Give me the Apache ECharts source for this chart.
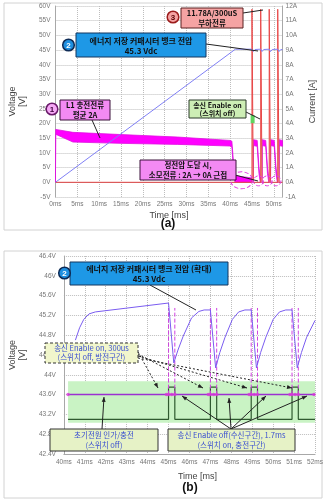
<!DOCTYPE html>
<html>
<head>
<meta charset="utf-8">
<script src="https://cdn.jsdelivr.net/npm/echarts@6/dist/echarts.min.js"></script>
<style>
  html, body { margin: 0; padding: 0; background: #fff; }
  #chart { width: 326px; height: 504px; }
</style>
</head>
<body>
<div id="chart"></div>
<script>
// 송신 펄스 타이밍 (ms)
var pulseStart = [45.0, 47.0, 48.95, 50.9];
var pulseWidth = 0.3;
var loadPeak = 11.78;

// (a) 커패시터 전압 [V]
var vaT = [0, 41.2, 45.0, 45.3, 45.7, 47.0, 47.3, 47.7, 48.95, 49.25, 49.65, 50.9, 51.2, 51.6, 52];
var vaV = [0, 45.3, 45.3, 44.5, 45.2, 45.3, 44.5, 45.2, 45.3, 44.5, 45.2, 45.3, 44.5, 45.2, 45.1];

// (a) L1 충전전류 리플 밴드 [A]
var bandT  = [0, 0.05, 4, 15, 28, 40, 40.4, 40.8, 41.1, 44.9, 45.3, 45.35, 46.2, 46.6, 46.9, 47.3, 47.35, 48.15, 48.55, 48.85, 49.25, 49.3, 50.1, 50.5, 50.8, 51.2, 51.25, 52];
var bandHi = [0, 3.6, 3.4, 3.25, 3.08, 2.85, 2.8, 1.2, 0.45, 0.3, 0.3, 2.9, 2.85, 1.0, 0.35, 0.3, 2.9, 2.85, 1.0, 0.35, 0.3, 2.9, 2.85, 1.0, 0.35, 0.3, 2.9, 2.85];
var bandLo = [0, 3.27, 2.74, 2.65, 2.58, 2.47, 2.4, 0.8, 0, 0, 0, 2.5, 2.45, 0.6, 0, 0, 2.5, 2.45, 0.6, 0, 0, 2.5, 2.45, 0.6, 0, 0, 2.5, 2.45];

// (a) 점선 원 표시 위치
var ringT = [42.6, 46.5, 48.5, 50.5];
var ringA = [0.14, 0.1, 0.1, 0.1];
var enableMark = [45.15, 4.3];

// (b) 커패시터 전압 확대 [V]
var vbT = [40.55, 40.75, 40.95, 41.2, 41.5, 45.0, 45.25, 45.45, 45.7, 46.1, 46.45, 46.7, 47.0, 47.25, 47.45, 47.7, 48.05, 48.35, 48.65, 48.95, 49.2, 49.4, 49.65, 50.0, 50.3, 50.6, 50.9, 51.15, 51.35, 51.6, 52.0];
var vbV = [44.70, 44.95, 45.12, 45.23, 45.27, 45.45, 44.24, 44.5, 44.78, 45.15, 45.28, 45.31, 45.31, 44.14, 44.45, 44.76, 45.12, 45.27, 45.31, 45.31, 44.14, 44.45, 44.76, 45.12, 45.27, 45.31, 45.31, 44.14, 44.45, 44.76, 45.1];

// (b) 송신 Enable 신호 / 기준선
var sigLo = 43.1, sigHi = 43.75, sigStart = 40.2, sigEnd = 52;
var levelB = 43.6;
var dashTop = 45.35;
var markT = [40.2, 44.9, 45.0, 45.15, 45.3, 46.9, 47.0, 47.15, 47.3, 48.85, 48.95, 49.1, 49.25, 50.8, 50.9, 51.05, 51.2, 51.95];
var greenBand = [43.03, 43.87];

var KR = 'Noto Sans CJK KR';

function zip(a, b) { return a.map(function (v, i) { return [v, b[i]]; }); }

var loadData = [[0, 0]];
pulseStart.forEach(function (s) {
  loadData.push([s, 0], [s, loadPeak], [s + pulseWidth, loadPeak], [s + pulseWidth, 0]);
});
loadData.push([52, 0]);

var sigData = [[sigStart, sigLo]];
pulseStart.forEach(function (s) {
  sigData.push([s, sigLo], [s, sigHi], [s + pulseWidth, sigHi], [s + pulseWidth, sigLo]);
});
sigData.push([sigEnd, sigLo]);

var dashData = [];
pulseStart.forEach(function (s) {
  [s, s + pulseWidth].forEach(function (x) { dashData.push([x, levelB], [x, dashTop], [x, '-']); });
});

// --- 주석 그래픽 ---
function box(x, y, w, h, fill, stroke, dash) {
  var st = { fill: fill, stroke: stroke, lineWidth: 1 };
  if (dash) st.lineDash = [3, 2];
  return { type: 'rect', shape: { x: x, y: y, width: w, height: h }, style: st, z: 10 };
}
function txt(x, y, s, color, size, weight) {
  return { type: 'text', x: x, y: y, z: 11,
    style: { text: s, fill: color, fontSize: size, fontWeight: weight || 'bold', fontFamily: KR, align: 'center', verticalAlign: 'middle' } };
}
function circ(cx, cy, r, fill, stroke, label, color) {
  return [
    { type: 'circle', shape: { cx: cx, cy: cy, r: r }, style: { fill: fill, stroke: stroke, lineWidth: 1.5 }, z: 10 },
    { type: 'text', x: cx, y: cy + 0.5, z: 11, style: { text: label, fill: color, fontSize: 8, fontWeight: 'bold', fontFamily: 'Liberation Sans', align: 'center', verticalAlign: 'middle' } }
  ];
}
function seg(x1, y1, x2, y2, dash) {
  var st = { stroke: '#222', lineWidth: 1 };
  if (dash) st.lineDash = [2, 2];
  return { type: 'line', shape: { x1: x1, y1: y1, x2: x2, y2: y2 }, style: st, z: 9 };
}
function arrow(x1, y1, x2, y2, dash) {
  var dx = x2 - x1, dy = y2 - y1, L = Math.sqrt(dx * dx + dy * dy), ux = dx / L, uy = dy / L;
  var hl = 5, hw = 2;
  return [seg(x1, y1, x2, y2, dash),
    { type: 'polygon', z: 9, style: { fill: '#222' },
      shape: { points: [[x2, y2], [x2 - ux * hl - uy * hw, y2 - uy * hl + ux * hw], [x2 - ux * hl + uy * hw, y2 - uy * hl - ux * hw]] } }];
}

var g = [];
// 패널 테두리
g.push({ type: 'rect', shape: { x: 4, y: 3, width: 318, height: 227 }, style: { fill: 'none', stroke: '#d2d2d2', lineWidth: 1 }, z: 0 });
g.push({ type: 'rect', shape: { x: 4, y: 251, width: 318, height: 247 }, style: { fill: 'none', stroke: '#d2d2d2', lineWidth: 1 }, z: 0 });
g.push({ type: 'text', x: 168, y: 224, z: 11, style: { text: '(a)', fill: '#111', fontSize: 12, fontWeight: 'bold', fontFamily: 'Liberation Sans', align: 'center', verticalAlign: 'middle' } });
g.push({ type: 'text', x: 190, y: 488, z: 11, style: { text: '(b)', fill: '#111', fontSize: 12, fontWeight: 'bold', fontFamily: 'Liberation Sans', align: 'center', verticalAlign: 'middle' } });

// (a) 주석
g.push(seg(206, 44, 258, 51));
g.push(box(76, 33, 130, 24, '#1e98e6', '#15375f'));
g.push(txt(141, 40.5, '에너지 저장 커패시터 뱅크 전압', '#111', 8));
g.push(txt(141, 50.5, '45.3 Vdc', '#111', 8));
g = g.concat(circ(68.5, 45, 5.8, '#1e8fe0', '#0d2a55', '2', '#fff'));

g.push(seg(243, 13, 263, 10));
g.push(box(181, 8, 62, 20, '#f5a3a3', '#5a2020'));
g.push(txt(212, 13.5, '11.78A/300uS', '#111', 7.5));
g.push(txt(212, 23, '부하전류', '#111', 7.5));
g = g.concat(circ(173, 17, 5.8, '#f5a3a3', '#9b1c1c', '3', '#5a0000'));

g.push(seg(92, 120, 100, 138));
g.push(box(60, 100, 50, 20, '#f38af3', '#3a103a'));
g.push(txt(85, 105.5, 'L1 충전전류', '#111', 7.5));
g.push(txt(85, 115, '평균 2A', '#111', 7.5));
g = g.concat(circ(52, 109, 5.8, '#f6a8f6', '#6a1a6a', '1', '#3a003a'));

g.push(seg(235, 175, 258, 181));
g.push(box(140, 160, 96, 20, '#f38af3', '#3a103a'));
g.push(txt(188, 165.5, '정전압 도달 시,', '#111', 7.5));
g.push(txt(188, 175, '소모전류 : 2A → 0A 근접', '#111', 7.5));

g.push(seg(246, 112, 260, 119));
g.push(box(189, 100, 57, 18, '#cdeeb5', '#2a3a2a'));
g.push(txt(217.5, 105, '송신 Enable on', '#111', 7));
g.push(txt(217.5, 113.5, '(스위치 off)', '#111', 7));

// (b) 주석
g.push(seg(150, 285, 196, 310));
g.push(box(70, 262, 158, 23, '#1e98e6', '#15375f'));
g.push(txt(149, 268.5, '에너지 저장 커패시터 뱅크 전압 (확대)', '#111', 8));
g.push(txt(149, 279, '45.3 Vdc', '#111', 8));
g = g.concat(circ(64.5, 273, 5.8, '#1e8fe0', '#0d2a55', '2', '#fff'));

g = g.concat(arrow(138, 352, 158, 388, true));
g = g.concat(arrow(138, 354, 203, 388, true));
g = g.concat(arrow(138, 356, 247, 388, true));
g = g.concat(arrow(138, 358, 292, 388, true));
g.push(box(45, 343, 93, 20, '#f1f6cc', '#333', true));
g.push(txt(91.5, 348.5, '송신 Enable on, 300us', '#3a4fd0', 7.5, 'normal'));
g.push(txt(91.5, 357.5, '(스위치 off, 방전구간)', '#3a4fd0', 7.5, 'normal'));

g = g.concat(arrow(102, 429, 104, 397));
g.push(box(50, 429, 108, 22, '#e6f2c6', '#333'));
g.push(txt(104, 435.5, '초기전원 인가/충전', '#3a4fd0', 7.5, 'normal'));
g.push(txt(104, 445, '(스위치 off)', '#3a4fd0', 7.5, 'normal'));

g = g.concat(arrow(231, 429, 182, 396));
g = g.concat(arrow(231, 429, 229, 398));
g = g.concat(arrow(231, 429, 266, 396));
g = g.concat(arrow(231, 429, 307, 396));
g.push(box(168, 429, 127, 22, '#e6f2c6', '#333'));
g.push(txt(231.5, 435.5, '송신 Enable off(수신구간), 1.7ms', '#3a4fd0', 7.5, 'normal'));
g.push(txt(231.5, 445, '(스위치 on, 충전구간)', '#3a4fd0', 7.5, 'normal'));

var lblStyle = { color: '#777', fontSize: 6.5, fontFamily: 'Liberation Sans' };
var nameStyle = { color: '#444', fontSize: 9, fontFamily: 'Liberation Sans', lineHeight: 10 };
var gridLine = { show: true, lineStyle: { color: '#bdbdbd', type: 'dotted', width: 1 } };
var axLine = { show: true, lineStyle: { color: '#a8a8a8' } };

var chart = echarts.init(document.getElementById('chart'), null, { renderer: 'canvas' });
chart.setOption({
  animation: false,
  grid: [
    { left: 40, top: 6, width: 260, height: 191 },
    { left: 44, top: 256, width: 273, height: 198 }
  ],
  xAxis: [
    { type: 'value', gridIndex: 0, min: 0, max: 52, interval: 5,
      axisLabel: Object.assign({ formatter: '{value}ms', margin: 4, showMaxLabel: false }, lblStyle),
      axisTick: { show: false }, axisLine: axLine, splitLine: gridLine,
      name: 'Time [ms]', nameLocation: 'middle', nameGap: 14, nameTextStyle: nameStyle },
    { type: 'value', gridIndex: 1, min: 40, max: 52, interval: 1,
      axisLabel: Object.assign({ formatter: '{value}ms', margin: 5 }, lblStyle),
      axisTick: { show: false }, axisLine: axLine, splitLine: gridLine,
      name: 'Time [ms]', nameLocation: 'middle', nameGap: 18, nameTextStyle: Object.assign({ padding: [0, 0, 0, 16] }, nameStyle) }
  ],
  yAxis: [
    { type: 'value', gridIndex: 0, min: -5, max: 60, interval: 5,
      axisLabel: Object.assign({ formatter: '{value}V', margin: 5 }, lblStyle),
      axisTick: { show: false }, axisLine: axLine, splitLine: gridLine,
      name: 'Voltage\n[V]', nameLocation: 'middle', nameRotate: 90, nameGap: 27, nameTextStyle: nameStyle },
    { type: 'value', gridIndex: 0, min: -1, max: 12, interval: 1, position: 'right',
      axisLabel: Object.assign({ formatter: '{value}A', margin: 3 }, lblStyle),
      axisTick: { show: false }, axisLine: axLine, splitLine: { show: false },
      name: 'Current [A]', nameLocation: 'middle', nameRotate: 90, nameGap: 17, nameTextStyle: nameStyle },
    { type: 'value', gridIndex: 1, min: 42.4, max: 46.4, interval: 0.4,
      axisLabel: Object.assign({ formatter: function (v) { return parseFloat(v.toFixed(1)) + 'V'; }, margin: 8 }, lblStyle),
      axisTick: { show: false }, axisLine: axLine, splitLine: gridLine,
      name: 'Voltage\n[V]', nameLocation: 'middle', nameRotate: 90, nameGap: 29, nameTextStyle: nameStyle }
  ],
  graphic: g,
  series: [
    // (a) L1 충전전류 밴드 (상한/하한 사이 채움)
    { type: 'custom', xAxisIndex: 0, yAxisIndex: 1, z: 2, clip: true,
      data: bandT.map(function (t, i) { return [t, bandHi[i], bandLo[i]]; }),
      encode: { x: 0, y: [1, 2] },
      renderItem: function (params, api) {
        if (params.dataIndex !== 0) return null;
        var up = bandT.map(function (t, i) { return api.coord([t, bandHi[i]]); });
        var lo = bandT.map(function (t, i) { return api.coord([t, bandLo[i]]); }).reverse();
        return { type: 'polygon', shape: { points: up.concat(lo) },
          style: { fill: '#ff00ff', stroke: '#e010e0', lineWidth: 0.8 } };
      } },
    // (a) 부하전류
    { type: 'line', xAxisIndex: 0, yAxisIndex: 1, symbol: 'none', z: 3,
      data: loadData, lineStyle: { color: '#e84848', width: 1 },
      areaStyle: { color: '#f7b4b4', opacity: 1, origin: 'auto' },
      markPoint: {
        silent: true, symbol: 'circle', label: { show: false },
        itemStyle: { color: 'rgba(0,0,0,0)', borderColor: '#e040e0', borderWidth: 1, borderType: 'dashed' },
        data: ringT.map(function (t, i) {
          return { coord: [t, ringA[i]], symbolSize: i === 0 ? [22, 17] : [10, 10] };
        }).concat([{ coord: enableMark, symbol: 'rect', symbolSize: [4, 8],
          itemStyle: { color: '#5fd35f', borderWidth: 0 } }])
      } },
    // (a) 커패시터 전압
    { type: 'line', xAxisIndex: 0, yAxisIndex: 0, symbol: 'none', z: 4,
      data: zip(vaT, vaV), lineStyle: { color: '#7f7ff5', width: 1 } },

    // (b) 송신 Enable 신호 + 녹색 영역
    { type: 'line', xAxisIndex: 1, yAxisIndex: 2, symbol: 'none', z: 3,
      data: sigData, lineStyle: { color: '#2f5a2f', width: 1.2 },
      markArea: { silent: true, itemStyle: { color: '#c9f3c4' },
        data: [[{ coord: [sigStart, greenBand[0]] }, { coord: [sigEnd, greenBand[1]] }]] } },
    // (b) 기준선
    { type: 'line', xAxisIndex: 1, yAxisIndex: 2, symbol: 'none', z: 4,
      data: [[sigStart, levelB], [sigEnd, levelB]], lineStyle: { color: '#9b30d0', width: 1.5 } },
    { type: 'scatter', xAxisIndex: 1, yAxisIndex: 2, symbol: 'circle', symbolSize: 3.5, z: 5,
      data: markT.map(function (t) { return [t, levelB]; }), itemStyle: { color: '#d838d8' } },
    // (b) 펄스 점선
    { type: 'line', xAxisIndex: 1, yAxisIndex: 2, symbol: 'none', z: 4, connectNulls: false,
      data: dashData, lineStyle: { color: '#d040e0', width: 1, type: 'dashed' } },
    // (b) 커패시터 전압 (확대)
    { type: 'line', xAxisIndex: 1, yAxisIndex: 2, symbol: 'none', z: 6,
      data: zip(vbT, vbV), lineStyle: { color: '#7a5cf0', width: 1 } }
  ]
});
</script>
</body>
</html>
